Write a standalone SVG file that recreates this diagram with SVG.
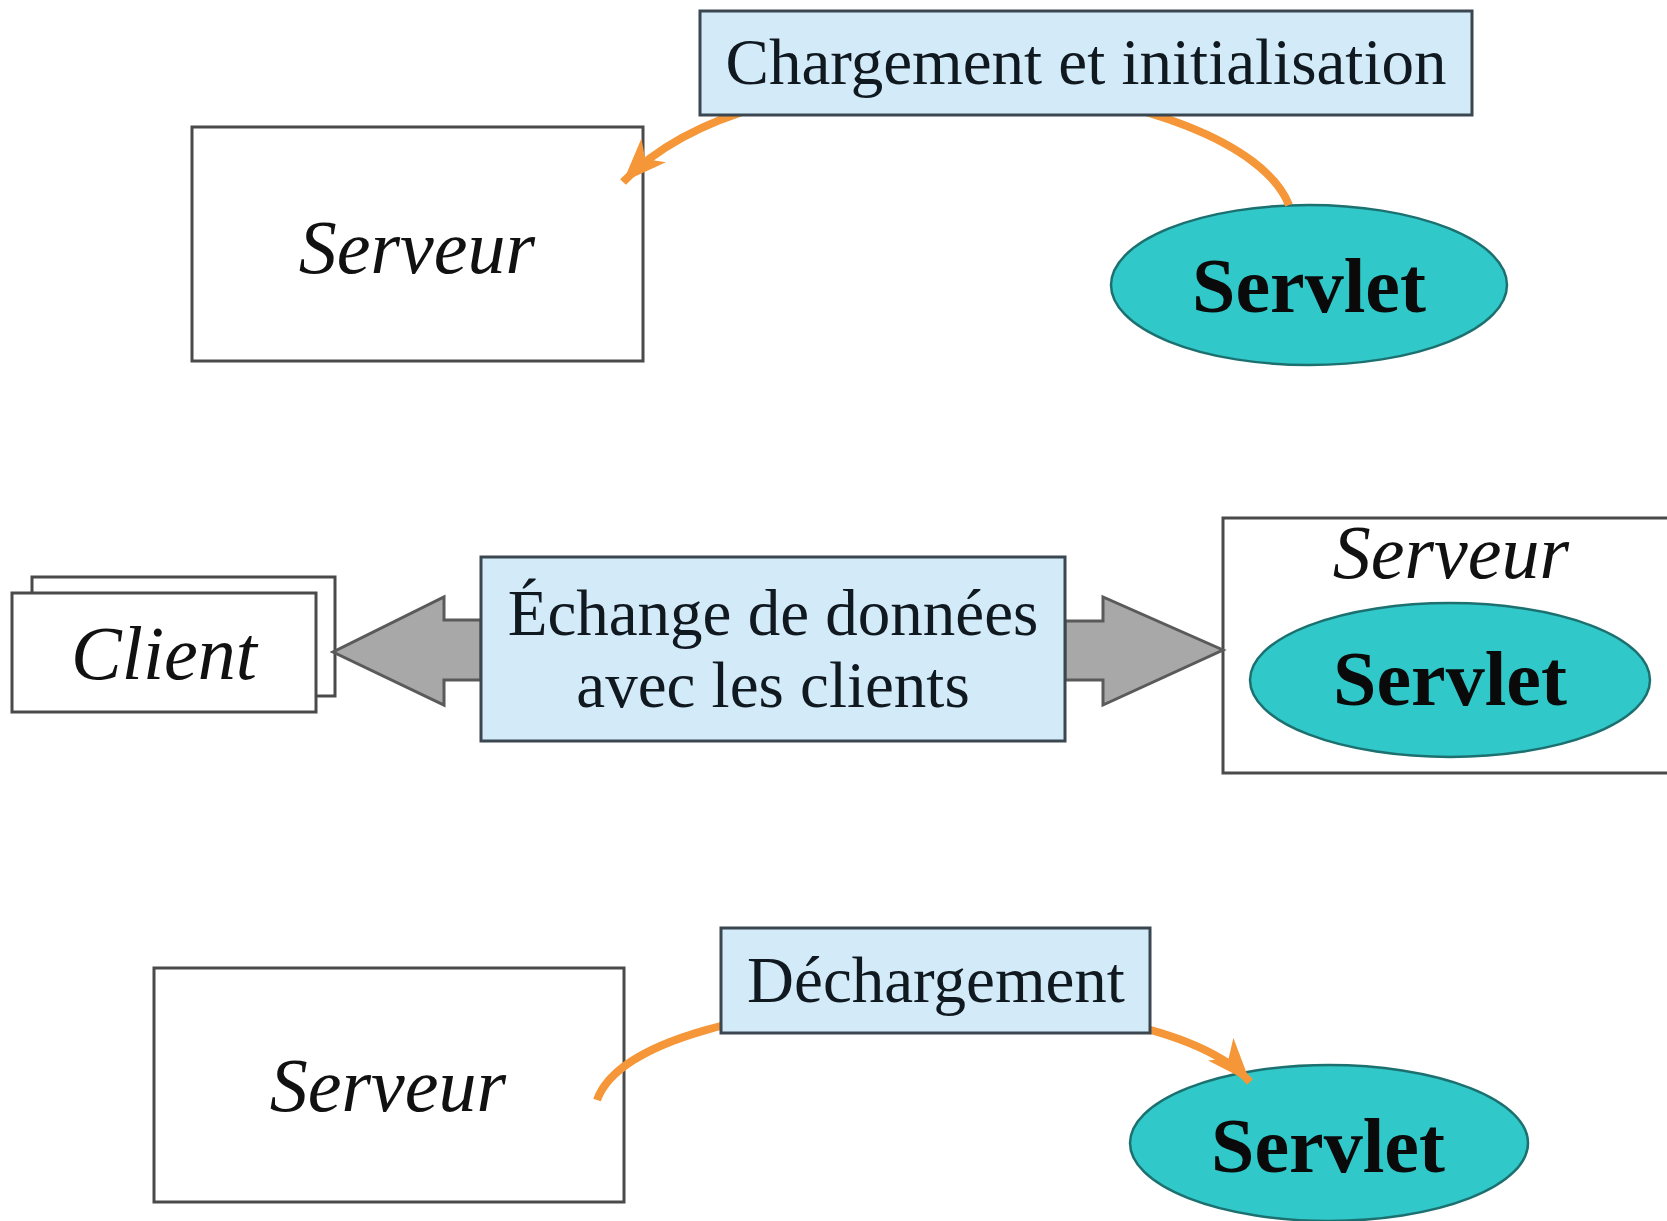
<svg xmlns="http://www.w3.org/2000/svg" width="1667" height="1221" viewBox="0 0 1667 1221">
<style>
.box{fill:#ffffff;stroke:#4a4a4a;stroke-width:3}
.lbl{fill:#d3ebf9;stroke:#3a4650;stroke-width:3}
.ell{fill:#30c8c8;stroke:#1d7070;stroke-width:2.5}
.it{font-family:"Liberation Serif",serif;font-style:italic;font-size:76px;fill:#111;text-anchor:middle}
.rg{font-family:"Liberation Serif",serif;font-size:65px;fill:#101820;text-anchor:middle}
.bd{font-family:"Liberation Serif",serif;font-weight:bold;font-size:78px;fill:#0a0a0a;text-anchor:middle}
.orange{fill:none;stroke:#f59638;stroke-width:8}
.block{fill:#a8a8a8;stroke:#5a5a5a;stroke-width:3;stroke-linejoin:miter}
</style>
<defs>
<marker id="ah" markerUnits="userSpaceOnUse" markerWidth="48" markerHeight="36" refX="44" refY="17" orient="auto" viewBox="0 0 48 36">
<path d="M0,0 L44,17 L0,34 L12,17 Z" fill="#f59638"/>
</marker>
</defs>
<rect width="1667" height="1221" fill="#ffffff"/>

<g id="serveur1"><rect class="box" x="192" y="127" width="451" height="234"/><text class="it" x="417" y="273">Serveur</text></g>
<g id="servlet1"><ellipse class="ell" cx="1309" cy="285" rx="198" ry="80"/><text class="bd" x="1309" y="312">Servlet</text></g>

<g id="client"><rect class="box" x="32" y="577" width="303" height="119"/><rect class="box" x="12" y="593" width="304" height="119"/><text class="it" x="164" y="679">Client</text></g>
<g id="serveur2"><rect class="box" x="1223" y="518" width="450" height="255"/><text class="it" x="1451" y="578">Serveur</text></g>
<g id="servlet2"><ellipse class="ell" cx="1450" cy="680" rx="200" ry="77"/><text class="bd" x="1450" y="705">Servlet</text></g>

<g id="serveur3"><rect class="box" x="154" y="968" width="470" height="234"/><text class="it" x="388" y="1111">Serveur</text></g>
<g id="servlet3"><ellipse class="ell" cx="1329" cy="1143" rx="199" ry="78"/><text class="bd" x="1328" y="1172">Servlet</text></g>

<g id="connectors">
<path class="orange" d="M1289,205 C1240,80 780,20 623,182" marker-end="url(#ah)"/>
<polygon class="block" points="481,620 444,620 444,597 333,652 444,705 444,680 481,680"/>
<polygon class="block" points="1065,621 1103,621 1103,597 1223,650 1103,705 1103,680 1065,680"/>
<path class="orange" d="M597,1100 C640,980 1150,970 1250,1082" marker-end="url(#ah)"/>
</g>

<g id="chargement"><rect class="lbl" x="700" y="11" width="772" height="104"/><text class="rg" x="1086" y="84">Chargement et initialisation</text></g>
<g id="echange"><rect class="lbl" x="481" y="557" width="584" height="184"/><text class="rg" x="773" y="635">Échange de données</text><text class="rg" x="773" y="707">avec les clients</text></g>
<g id="dechargement"><rect class="lbl" x="721" y="928" width="429" height="105"/><text class="rg" x="936" y="1002">Déchargement</text></g>
</svg>
